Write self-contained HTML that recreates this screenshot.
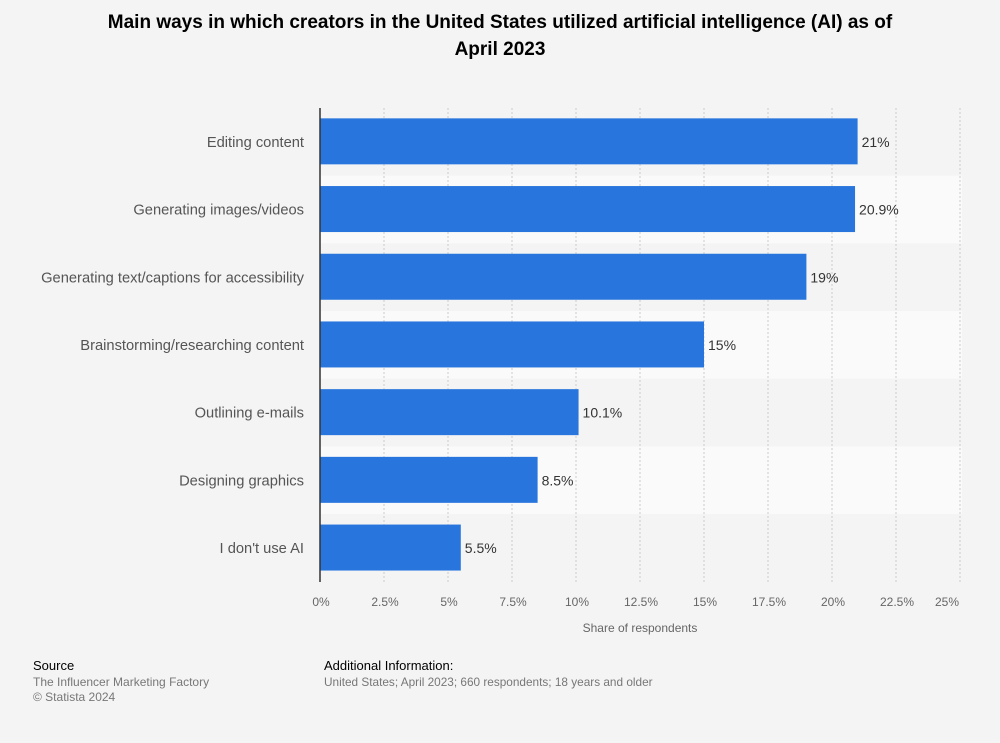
<!DOCTYPE html>
<html><head><meta charset="utf-8"><style>
body{margin:0;background:#f4f4f4;font-family:"Liberation Sans",sans-serif;}
#wrap{position:relative;width:1000px;height:743px;overflow:hidden;background:#f4f4f4}
</style></head><body>
<div id="wrap">
<svg id="chart" width="1000" height="743">
<text x="500" y="28" text-anchor="middle" font-size="19" font-weight="bold" fill="#000"><tspan x="500">Main ways in which creators in the United States utilized artificial intelligence (AI) as of</tspan><tspan x="500" dy="27">April 2023</tspan></text>
<g id="bands"></g><g id="grid"></g><g id="bars"></g><g id="labels"></g>
<line x1="320" y1="108" x2="320" y2="582" stroke="#333" stroke-width="1.5"/>
<text x="640" y="632" text-anchor="middle" font-size="12" fill="#666">Share of respondents</text>
<text x="33" y="670" font-size="13" fill="#000">Source</text>
<text x="33" y="686" font-size="12" fill="#777">The Influencer Marketing Factory</text>
<text x="33" y="701" font-size="12" fill="#777">© Statista 2024</text>
<text x="324" y="670" font-size="13" fill="#000">Additional Information:</text>
<text x="324" y="686" font-size="11.8" fill="#777">United States; April 2023; 660 respondents; 18 years and older</text>
</svg>
</div>
<script>
const categories=["Editing content","Generating images/videos","Generating text/captions for accessibility","Brainstorming/researching content","Outlining e-mails","Designing graphics","I don't use AI"];
const values=[21,20.9,19,15,10.1,8.5,5.5];
const valueLabels=["21%","20.9%","19%","15%","10.1%","8.5%","5.5%"];
const ticks=[0,2.5,5,7.5,10,12.5,15,17.5,20,22.5,25];
const tickLabels=["0%","2.5%","5%","7.5%","10%","12.5%","15%","17.5%","20%","22.5%","25%"];
const NS="http://www.w3.org/2000/svg";
const x0=320,pxPer=25.6,top0=108,rowH=67.7,barH=46;
const xs=v=>x0+v*pxPer;
const ys=i=>top0+i*rowH;
function mk(t,a,p){const e=document.createElementNS(NS,t);for(const k in a)e.setAttribute(k,a[k]);p.appendChild(e);return e;}
const bands=document.getElementById('bands'),grid=document.getElementById('grid'),bars=document.getElementById('bars'),labels=document.getElementById('labels');
categories.forEach((c,i)=>{
 const b=mk('rect',{x:320,y:ys(i),width:642,height:rowH,fill:i%2?'#fafafa':'#f4f4f4'},bands);
 
 
 const r=mk('rect',{x:xs(0),y:ys(i)+(rowH-barH)/2-0.5,width:xs(values[i])-xs(0),height:barH,fill:'#2876dd'},bars);
 
 
 const l=mk('text',{x:304,y:ys(i)+rowH/2+5,'text-anchor':'end','font-size':14.7,fill:'#555'},labels);
 l.textContent=c;
 
 
 const v=mk('text',{x:xs(values[i])+4,y:ys(i)+rowH/2+5,'font-size':14,fill:'#333'},labels);
 v.textContent=valueLabels[i];
 
 
});
ticks.forEach((t,i)=>{
 if(t>0){const g=mk('line',{x1:xs(t),y1:108,x2:xs(t),y2:582,stroke:'#ccc','stroke-dasharray':'2,2'},grid);
 
 }
 const tl=mk('text',{x:xs(t)+(i===ticks.length-1?-13:1),y:606,'text-anchor':'middle','font-size':12,fill:'#666'},labels);
 tl.textContent=tickLabels[i];
 
 
});
</script>
</body></html>
